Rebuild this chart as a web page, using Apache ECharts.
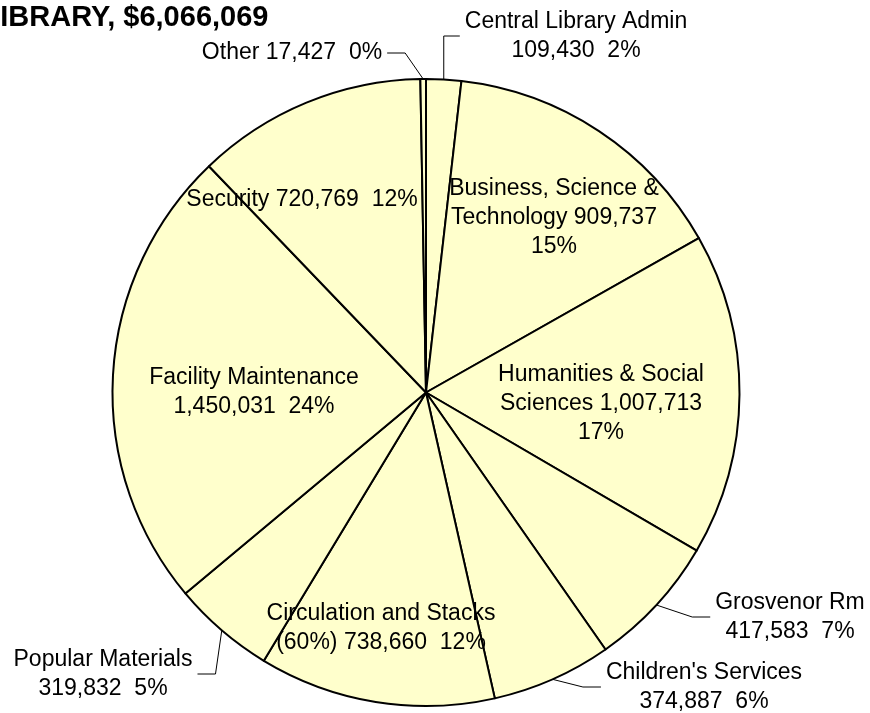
<!DOCTYPE html>
<html>
<head>
<meta charset="utf-8">
<script src="https://cdn.jsdelivr.net/npm/echarts@6/dist/echarts.min.js"></script>
<style>
  html, body { margin: 0; padding: 0; background: #ffffff; }
  #chart { width: 870px; height: 713px; }
</style>
</head>
<body>
<div id="chart"></div>
<script>
// ---- Data ----
const categories = [
  'Central Library Admin',
  'Business, Science & Technology',
  'Humanities & Social Sciences',
  'Grosvenor Rm',
  "Children's Services",
  'Circulation and Stacks (60%)',
  'Popular Materials',
  'Facility Maintenance',
  'Security',
  'Other'
];
const values = [109430, 909737, 1007713, 417583, 374887, 738660, 319832, 1450031, 720769, 17427];

// Label text layout: name as broken over lines, separators between name/value/percent
const labelNames = [
  'Central Library Admin',
  'Business, Science &\nTechnology',
  'Humanities & Social\nSciences',
  'Grosvenor Rm',
  "Children's Services",
  'Circulation and Stacks\n(60%)',
  'Popular Materials',
  'Facility Maintenance',
  'Security',
  'Other'
];
const sepNameValue = ['\n', ' ', ' ', '\n', '\n', ' ', '\n', '\n', ' ', ' '];
const sepValuePct  = ['  ', '\n', '\n', '  ', '  ', '  ', '  ', '  ', '  ', '  '];
const labelInside  = [false, true, true, false, false, true, false, true, true, false];

// Label placement (label centre, px) – annotation layout only
const labelPos = [
  [576, 36], [554, 218], [601, 404], [790, 617], [704, 687],
  [381, 628], [103, 674], [254, 392], [302, 200], [292, 53]
];

const total = values.reduce((a, b) => a + b, 0);
const fmt = v => v.toLocaleString('en-US');

const chart = echarts.init(document.getElementById('chart'), null, { renderer: 'canvas' });

const data = categories.map((c, i) => ({
  name: c,
  value: values[i],
  label: { position: labelInside[i] ? 'inside' : 'outside' },
  labelLine: { show: !labelInside[i] }
}));

const option = {
  animation: false,
  title: {
    text: 'CENTRAL LIBRARY, $' + fmt(total),
    left: -164,
    top: 3,
    padding: 0,
    textStyle: {
      fontFamily: 'Liberation Sans, Arial, sans-serif',
      fontWeight: 'bold',
      fontSize: 29,
      color: '#000'
    }
  },
  series: [{
    type: 'pie',
    center: [426, 392.5],
    radius: [0, 313.5],
    startAngle: 90,
    clockwise: true,
    avoidLabelOverlap: false,
    silent: true,
    emphasis: { disabled: true, scale: false },
    itemStyle: {
      color: '#FFFFCC',
      borderColor: '#000000',
      borderWidth: 2
    },
    label: {
      show: true,
      color: '#000',
      fontFamily: 'Liberation Sans, Arial, sans-serif',
      fontSize: 23,
      lineHeight: 29,
      padding: [0, 5],
      formatter: p => {
        const i = p.dataIndex;
        const pct = Math.round(values[i] / total * 100) + '%';
        return labelNames[i] + sepNameValue[i] + fmt(values[i]) + sepValuePct[i] + pct;
      }
    },
    labelLine: {
      show: true,
      length: 10,
      length2: 18,
      smooth: false,
      lineStyle: { color: '#000', width: 1 }
    },
    labelLayout: params => {
      const pos = labelPos[params.dataIndex];
      return { x: pos[0], y: pos[1], align: 'center', verticalAlign: 'middle' };
    },
    data: data
  }]
};

chart.setOption(option);
</script>
</body>
</html>
